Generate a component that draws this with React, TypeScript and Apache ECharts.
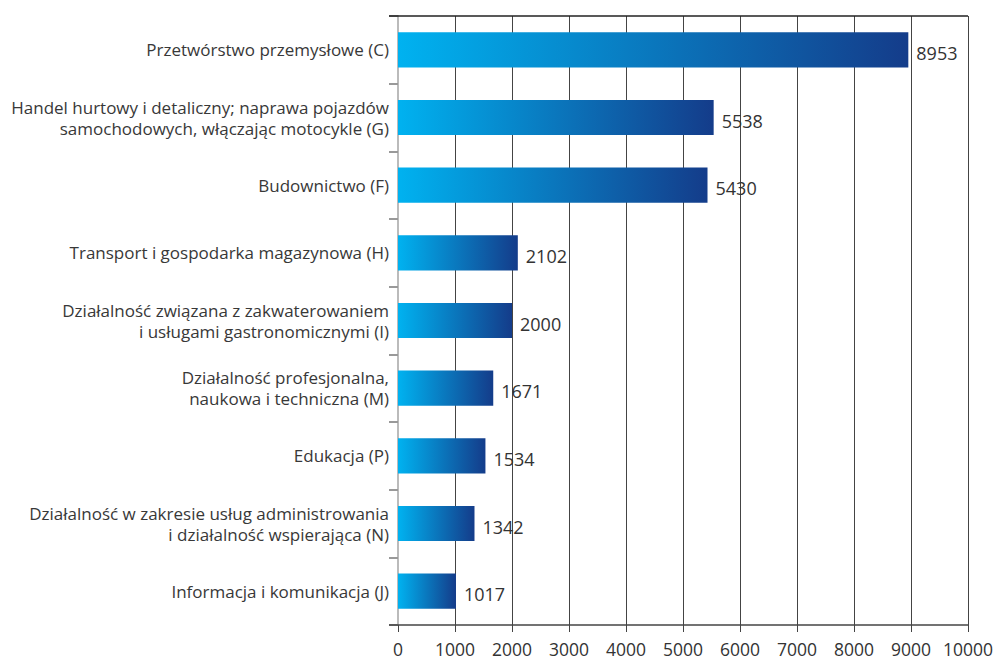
import React, { useEffect, useRef } from "react";
import * as echarts from "echarts";

const categories = [
  "Przetwórstwo przemysłowe (C)",
  "Handel hurtowy i detaliczny; naprawa pojazdów\nsamochodowych, włączając motocykle (G)",
  "Budownictwo (F)",
  "Transport i gospodarka magazynowa (H)",
  "Działalność związana z zakwaterowaniem\ni usługami gastronomicznymi (I)",
  "Działalność profesjonalna,\nnaukowa i techniczna (M)",
  "Edukacja (P)",
  "Działalność w zakresie usług administrowania\ni działalność wspierająca (N)",
  "Informacja i komunikacja (J)",
];
const values = [8953, 5538, 5430, 2102, 2000, 1671, 1534, 1342, 1017];
const axisMax = 10000;
const axisInterval = 1000;

export default function App() {
  const ref = useRef<HTMLDivElement>(null);
  useEffect(() => {
    if (!ref.current) return;
    const chart = echarts.init(ref.current, null, { renderer: "svg" });
    const font = "'Open Sans', sans-serif";
    const grad = new echarts.graphic.LinearGradient(0, 0, 1, 0, [
      { offset: 0, color: "#00b2f0" },
      { offset: 1, color: "#143c8a" },
    ]);
    chart.setOption({
      animation: false,
      grid: { left: 398, right: 29, top: 16, bottom: 38, containLabel: false },
      xAxis: {
        type: "value",
        min: 0,
        max: axisMax,
        interval: axisInterval,
        axisLine: { show: false },
        axisTick: { show: true, length: 7, lineStyle: { color: "#444", width: 1 } },
        axisLabel: {
          color: "#333",
          fontSize: 17.5,
          fontFamily: font,
          margin: 15,
          formatter: (v: number) => String(v),
        },
        splitLine: { show: true, lineStyle: { color: "#444", width: 1 } },
      },
      yAxis: {
        type: "category",
        inverse: true,
        data: categories,
        axisLine: { show: true, lineStyle: { color: "#bbb", width: 2 } },
        axisTick: { show: true, length: 9, lineStyle: { color: "#999", width: 2 } },
        axisLabel: {
          color: "#383838",
          fontSize: 17,
          fontFamily: font,
          margin: 9,
          align: "right",
          lineHeight: 21,
        },
      },
      graphic: [
        { type: "line", shape: { x1: 389, y1: 16, x2: 968, y2: 16 }, style: { stroke: "#222", lineWidth: 1.5 }, z: 10 },
        { type: "line", shape: { x1: 389, y1: 625, x2: 968, y2: 625 }, style: { stroke: "#444", lineWidth: 1.5 }, z: 10 },
      ],
      series: [
        {
          type: "bar",
          data: values,
          barWidth: "52%",
          itemStyle: { color: grad },
          label: {
            show: true,
            position: "right",
            distance: 8,
            color: "#333",
            fontSize: 18,
            fontFamily: font,
            offset: [0, 3],
          },
          z: 3,
        },
      ],
    });
    return () => chart.dispose();
  }, []);
  return <div ref={ref} style={{ width: 997, height: 663, position: "absolute", left: 0, top: 0, background: "#fff" }} />;
}
